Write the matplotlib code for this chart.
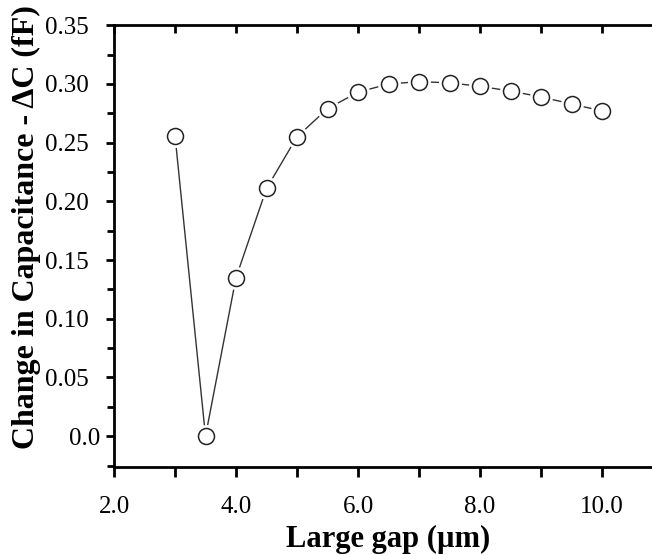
import matplotlib
matplotlib.use("Agg")
import matplotlib.pyplot as plt
import matplotlib.transforms as mtransforms
from matplotlib.ticker import MultipleLocator

plt.rcParams['font.family'] = ['Liberation Serif', 'DejaVu Serif']

gap = [3.0, 3.5, 4.0, 4.5, 5.0, 5.5, 6.0, 6.5, 7.0, 7.5, 8.0, 8.5, 9.0, 9.5, 10.0]
delta_c = [0.256, 0.0, 0.135, 0.211, 0.255, 0.279, 0.293, 0.300, 0.302, 0.301,
           0.298, 0.294, 0.289, 0.283, 0.277]
xticks = [2.0, 4.0, 6.0, 8.0, 10.0]
yticks = [0.0, 0.05, 0.10, 0.15, 0.20, 0.25, 0.30, 0.35]
ytick_labels = ['0.0', '0.05', '0.10', '0.15', '0.20', '0.25', '0.30', '0.35']

W, H = 652, 555
AX_W = 663 - 114
fig = plt.figure(figsize=(W / 100, H / 100), dpi=100)
ax = fig.add_axes([114 / W, (H - 466.7) / H, AX_W / W, (466.7 - 25.3) / H])

ax.plot(gap, delta_c, color='#333333', lw=1.0, zorder=1)
ax.plot(gap, delta_c, ls='none', marker='o', ms=15.5, mfc='white', mec='white', zorder=2)
ax.plot(gap, delta_c, ls='none', marker='o', ms=11.5, mfc='white', mec='#222222',
        mew=1.1, zorder=3)

ax.set_xlim(2.0, 11.0)
ax.set_ylim(-0.026, 0.35)
ax.set_xticks(xticks)
ax.set_xticklabels([f'{t:.1f}' for t in xticks])
ax.xaxis.set_minor_locator(MultipleLocator(1.0))
ax.set_yticks(yticks)
# the "0.0" label sits closer to the axis in the reference: drawn separately below
ax.set_yticklabels([''] + ytick_labels[1:])
ax.yaxis.set_minor_locator(MultipleLocator(0.025))

ax.spines['right'].set_visible(False)
for s in ['left', 'bottom', 'top']:
    ax.spines[s].set_linewidth(2.0)

ax.tick_params(axis='both', which='both', labelsize=18, width=2.0, color='black')
ax.tick_params(axis='x', which='major', length=7, direction='out', pad=14, top=True)
ax.tick_params(axis='x', which='minor', length=7, direction='out', top=True)
ax.tick_params(axis='y', which='major', length=6, direction='out', pad=12.5)
ax.tick_params(axis='y', which='minor', length=5, direction='out')
for t in ax.xaxis.get_major_ticks() + ax.xaxis.get_minor_ticks():
    t.tick2line.set_marker(matplotlib.lines.TICKDOWN)
    t.tick2line.set_markersize(6)

ax.text(0, yticks[0], ytick_labels[0], fontsize=18, ha='right', va='center_baseline',
        transform=ax.get_yaxis_transform() +
        mtransforms.ScaledTranslation(-14 / 100, 0, fig.dpi_scale_trans))

ax.set_xlabel('Large gap (\u00b5m)', fontsize=22, fontweight='bold', labelpad=5)
ax.set_ylabel('Change in Capacitance - \u0394C (fF)', fontsize=23, fontweight='bold')
ax.yaxis.set_label_coords(-0.133, 0.542)

fig.savefig('out.png', dpi=100)
